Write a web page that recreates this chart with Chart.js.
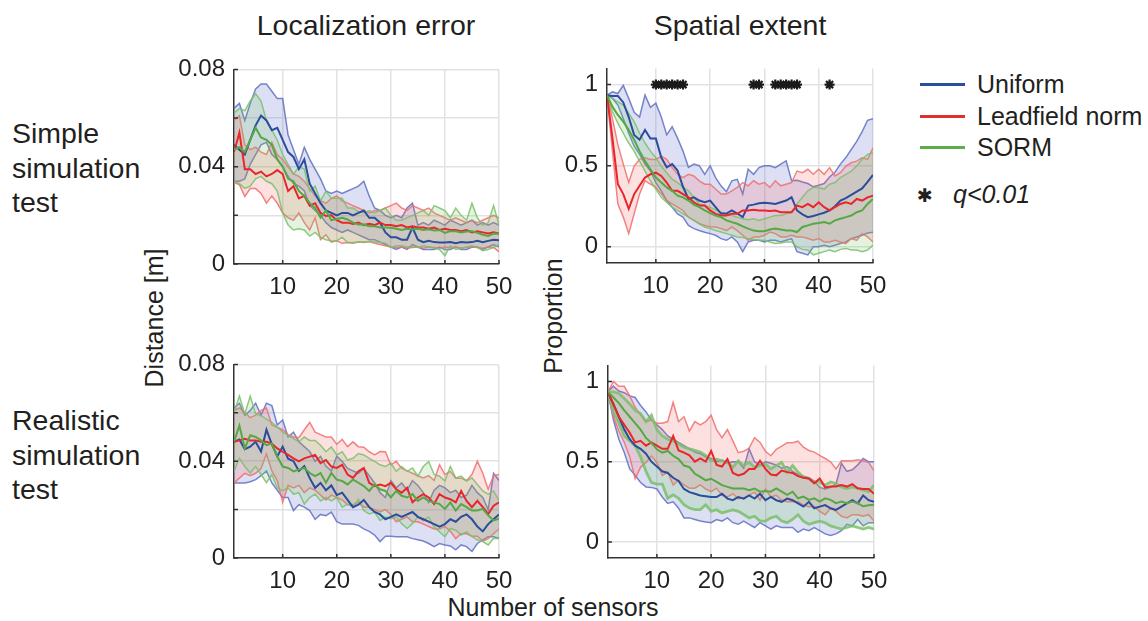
<!DOCTYPE html>
<html><head><meta charset="utf-8">
<script src="https://cdn.jsdelivr.net/npm/chart.js@4.4.1/dist/chart.umd.min.js"></script>
<style>
body{margin:0;background:#fff;width:1148px;height:621px;overflow:hidden;position:relative;font-family:'Liberation Sans',Arial,sans-serif;color:#231f20}
.t{position:absolute;white-space:nowrap}
canvas{position:absolute}
.lg{position:absolute;left:920px;width:45px;height:3px}
</style></head><body>
<div class="t" style="left:366px;top:9px;font-size:28.5px;transform:translateX(-50%)">Localization error</div>
<div class="t" style="left:740px;top:9px;font-size:28.5px;transform:translateX(-50%)">Spatial extent</div>
<div class="t" style="left:12px;top:116px;font-size:28.5px;line-height:34.5px">Simple<br>simulation<br>test</div>
<div class="t" style="left:12px;top:403px;font-size:28.5px;line-height:34.5px">Realistic<br>simulation<br>test</div>
<div class="t" style="left:154px;top:318px;font-size:25px;transform:translate(-50%,-50%) rotate(-90deg)">Distance [m]</div>
<div class="t" style="left:553px;top:316px;font-size:25px;transform:translate(-50%,-50%) rotate(-90deg)">Proportion</div>
<div class="t" style="left:553px;top:593px;font-size:25px;transform:translateX(-50%)">Number of sensors</div>
<div class="lg" style="top:83px;background:#2a4d9c"></div>
<div class="lg" style="top:115px;background:#e0302e"></div>
<div class="lg" style="top:146px;background:#5aaf48"></div>
<div class="t" style="left:977px;top:70px;font-size:25px">Uniform</div>
<div class="t" style="left:977px;top:102px;font-size:25px">Leadfield norm</div>
<div class="t" style="left:977px;top:133px;font-size:25px">SORM</div>
<div class="t" style="left:917px;top:184px;font-size:19px;font-family:'DejaVu Sans'">✱</div>
<div class="t" style="left:953px;top:180px;font-size:25px;font-style:italic">q&lt;0.01</div>
<canvas id="c1" width="395" height="263"></canvas>
<canvas id="c2" width="396" height="263"></canvas>
<canvas id="c3" width="395" height="262"></canvas>
<canvas id="c4" width="396" height="261"></canvas>
<script>
const sensors=[1,2,3,4,5,6,7,8,9,10,11,12,13,14,15,16,17,18,19,20,21,22,23,24,25,26,27,28,29,30,31,32,33,34,35,36,37,38,39,40,41,42,43,44,45,46,47,48,49,50];
const xTicks=[10,20,30,40,50];
const errTicks=[0,0.02,0.04,0.06,0.08];
const errTickLabels=['0','','0.04','','0.08'];
const propTicks=[0,0.5,1];
const propTickLabels=['0','0.5','1'];
const starSensors=[10,11,12,13,14,15,28,29,32,33,34,35,36,42];
const starLevel=1;

// Panel 1: localization error, simple simulation
const p1UniHi=[.064,.066,.059,.066,.072,.074,.074,.071,.068,.068,.053,.047,.041,.048,.043,.039,.035,.030,.029,.030,.029,.030,.031,.032,.034,.028,.023,.022,.020,.019,.020,.019,.023,.025,.016,.017,.016,.018,.017,.016,.018,.017,.016,.017,.018,.016,.017,.016,.017,.016];
const p1UniMed=[.049,.047,.045,.051,.057,.061,.059,.055,.056,.051,.046,.044,.039,.043,.033,.029,.025,.022,.021,.020,.021,.021,.020,.021,.022,.019,.019,.017,.013,.011,.011,.010,.010,.015,.010,.009,.0095,.009,.0088,.0088,.009,.0085,.009,.0088,.009,.0095,.009,.0095,.010,.0098];
const p1UniLo=[.034,.034,.035,.041,.045,.049,.050,.045,.043,.040,.036,.033,.032,.030,.024,.022,.020,.017,.015,.014,.013,.014,.013,.012,.011,.010,.010,.009,.008,.007,.006,.007,.006,.008,.007,.006,.006,.006,.007,.006,.006,.007,.006,.006,.007,.007,.006,.007,.008,.007];
const p1LfnHi=[.059,.061,.049,.047,.048,.046,.045,.050,.045,.043,.040,.037,.036,.034,.031,.028,.026,.025,.027,.028,.026,.025,.024,.023,.022,.021,.022,.022,.023,.024,.025,.023,.022,.024,.023,.022,.023,.021,.020,.019,.018,.019,.018,.017,.018,.017,.018,.019,.020,.019];
const p1LfnMed=[.046,.054,.039,.039,.037,.038,.036,.037,.0386,.037,.030,.032,.027,.028,.024,.025,.021,.0197,.020,.018,.017,.017,.0165,.017,.016,.0165,.016,.017,.016,.016,.0155,.016,.015,.0155,.015,.015,.0145,.015,.014,.0145,.014,.014,.0135,.014,.013,.0135,.013,.0125,.013,.0125];
const p1LfnLo=[.0335,.0326,.0278,.031,.031,.029,.025,.028,.025,.021,.019,.018,.021,.017,.014,.019,.010,.012,.009,.0095,.0085,.0088,.0085,.009,.0088,.0092,.0085,.008,.0075,.007,.0068,.007,.0065,.0068,.007,.0065,.007,.0068,.0065,.007,.0068,.007,.0066,.0068,.007,.0068,.0065,.007,.0068,.005];
const p1SormHi=[.062,.064,.063,.067,.070,.067,.059,.055,.051,.045,.041,.037,.040,.039,.030,.032,.026,.030,.027,.027,.027,.023,.023,.0216,.021,.022,.021,.022,.023,.020,.018,.018,.019,.020,.021,.022,.020,.024,.023,.022,.019,.023,.020,.018,.025,.019,.016,.017,.024,.016];
const p1SormMed=[.047,.048,.046,.051,.056,.052,.051,.049,.043,.040,.035,.034,.030,.028,.025,.023,.019,.022,.018,.0185,.019,.0183,.017,.0162,.0162,.0155,.0155,.015,.015,.0149,.0145,.014,.0145,.0142,.0145,.014,.0143,.0138,.014,.0128,.0135,.0135,.013,.0134,.0135,.0128,.012,.0115,.0125,.0124];
const p1SormLo=[.034,.033,.0311,.032,.035,.036,.034,.033,.030,.021,.016,.014,.0145,.014,.0115,.013,.011,.010,.0095,.0095,.011,.0088,.0088,.009,.009,.0092,.009,.0088,.0085,.0068,.0075,.0075,.007,.0072,.0068,.0075,.007,.0065,.006,.0034,.0075,.006,.0065,.007,.0075,.0068,.0055,.006,.0068,.0081];

// Panel 2: spatial extent, simple simulation
const p2UniHi=[.935,.955,.945,.995,.915,.83,.80,.935,.86,.885,.80,.69,.74,.67,.59,.49,.51,.50,.447,.50,.427,.376,.34,.407,.416,.325,.478,.447,.488,.50,.50,.488,.51,.53,.407,.41,.40,.39,.37,.38,.39,.43,.46,.51,.55,.60,.65,.71,.78,.79];
const p2UniMed=[.935,.93,.93,.89,.80,.69,.66,.72,.667,.667,.55,.49,.51,.47,.37,.295,.305,.285,.275,.285,.245,.205,.205,.224,.205,.183,.254,.26,.268,.272,.268,.264,.275,.285,.305,.224,.20,.183,.19,.20,.21,.224,.25,.285,.30,.32,.34,.36,.40,.443];
const p2UniLo=[.935,.915,.874,.79,.70,.62,.57,.51,.467,.396,.345,.285,.244,.203,.183,.132,.112,.10,.09,.081,.071,.05,.04,.061,.03,-.03,.03,.04,.04,.03,.04,.04,.03,.04,.05,-.03,-.04,-.05,0,0,.01,0,.01,.02,.03,.05,.06,.071,.085,.09];
const p2LfnHi=[.935,.79,.63,.51,.396,.498,.539,.549,.539,.539,.559,.539,.488,.447,.427,.447,.437,.407,.386,.386,.356,.325,.325,.345,.366,.396,.376,.407,.386,.396,.366,.407,.376,.386,.396,.467,.457,.478,.447,.478,.447,.488,.437,.457,.498,.518,.528,.549,.539,.61];
const p2LfnMed=[.935,.67,.386,.325,.234,.325,.376,.427,.447,.457,.437,.396,.345,.345,.325,.305,.274,.254,.254,.224,.203,.193,.193,.203,.203,.224,.224,.228,.224,.224,.22,.224,.213,.213,.213,.254,.244,.264,.244,.274,.244,.224,.244,.264,.274,.264,.295,.285,.305,.315];
const p2LfnLo=[.935,.59,.264,.183,.081,.203,.325,.407,.386,.366,.325,.285,.264,.244,.224,.183,.163,.142,.132,.122,.122,.112,.10,.122,.10,.071,.04,.061,.061,.071,.091,.081,.061,.061,.071,.061,.061,.051,.04,.051,.03,.03,.04,.03,.02,.051,.04,.081,.061,.03];
const p2SormHi=[.935,.915,.894,.874,.823,.772,.70,.64,.59,.549,.498,.457,.417,.396,.366,.345,.305,.264,.254,.244,.228,.213,.203,.193,.183,.173,.167,.173,.163,.173,.183,.193,.193,.203,.213,.264,.305,.345,.366,.366,.356,.386,.396,.427,.447,.467,.498,.539,.57,.58];
const p2SormMed=[.935,.864,.813,.772,.72,.66,.59,.528,.478,.427,.396,.366,.345,.315,.305,.285,.26,.244,.224,.207,.193,.183,.163,.152,.142,.126,.112,.10,.096,.096,.106,.112,.106,.10,.10,.091,.122,.132,.142,.146,.152,.142,.163,.173,.183,.193,.213,.224,.264,.295];
const p2SormLo=[.935,.833,.762,.70,.64,.59,.528,.467,.407,.356,.305,.274,.244,.224,.203,.183,.163,.142,.122,.112,.10,.091,.081,.071,.061,.057,.05,.045,.04,.04,.03,.02,.024,.03,.03,0,-.016,-.02,-.05,-.04,-.03,-.02,-.03,-.016,-.01,-.02,-.02,-.03,-.02,.01];

// Panel 3: localization error, realistic simulation
const p3UniHi=[.062,.064,.059,.061,.064,.059,.064,.063,.055,.057,.050,.052,.048,.046,.044,.040,.042,.038,.036,.042,.040,.037,.036,.035,.037,.034,.031,.027,.025,.032,.029,.031,.028,.032,.030,.027,.023,.028,.030,.029,.027,.028,.025,.026,.030,.027,.025,.020,.035,.032];
const p3UniMed=[.048,.049,.045,.046,.048,.044,.053,.047,.042,.046,.041,.040,.036,.038,.033,.029,.031,.028,.030,.026,.027,.024,.021,.022,.024,.021,.019,.018,.016,.017,.018,.017,.018,.019,.017,.016,.015,.014,.013,.014,.016,.015,.017,.018,.016,.013,.011,.014,.016,.018];
const p3UniLo=[.031,.031,.031,.0315,.0324,.034,.036,.031,.028,.025,.025,.0196,.022,.021,.0196,.016,.018,.0175,.019,.015,.014,.014,.014,.0135,.012,.011,.0095,.0068,.009,.009,.0088,.0088,.0088,.008,.0075,.007,.006,.0047,.006,.0054,.005,.0034,.0054,.0047,.0027,.006,.0074,.0088,.0088,.0081];
const p3LfnHi=[.061,.062,.060,.058,.059,.061,.062,.055,.054,.053,.051,.050,.0497,.053,.056,.052,.051,.050,.050,.047,.049,.046,.048,.046,.0458,.0439,.0426,.044,.0439,.0385,.040,.037,.036,.035,.034,.0331,.034,.032,.0385,.0345,.0358,.033,.033,.032,.0345,.040,.035,.0284,.034,.0345];
const p3LfnMed=[.048,.0486,.0493,.0486,.0486,.048,.048,.0473,.0453,.0439,.0426,.0412,.0399,.0412,.0419,.0426,.0392,.0405,.0378,.0372,.0385,.0345,.0331,.0358,.0372,.0311,.0297,.0304,.0297,.0311,.0284,.027,.029,.023,.025,.0264,.025,.0223,.0264,.025,.0243,.023,.0277,.0236,.021,.0236,.021,.0182,.0216,.023];
const p3LfnLo=[.031,.033,.035,.034,.035,.037,.043,.036,.032,.023,.030,.029,.030,.027,.029,.028,.026,.024,.026,.025,.024,.022,.022,.023,.021,.021,.020,.019,.020,.018,.015,.016,.017,.015,.015,.014,.013,.012,.012,.013,.011,.008,.010,.010,.009,.009,.007,.008,.010,.012];
const p3SormHi=[.0601,.0669,.0595,.0669,.0595,.0588,.0574,.0561,.0541,.052,.0507,.0493,.048,.050,.0486,.0486,.0466,.0439,.0459,.0426,.0439,.0405,.0412,.0432,.0426,.0412,.0399,.0385,.0378,.0392,.0358,.0378,.0358,.0372,.0338,.0378,.0399,.0345,.0338,.0318,.0378,.0331,.0338,.0318,.0331,.0304,.0277,.0264,.0277,.0236];
const p3SormMed=[.048,.0547,.0453,.0507,.050,.0486,.0466,.0473,.0419,.0378,.0372,.0358,.0365,.0372,.0351,.0338,.0351,.0311,.0351,.0324,.0318,.0304,.0324,.0311,.0297,.0277,.0304,.0284,.0277,.025,.0277,.0257,.025,.0264,.0236,.025,.0236,.023,.0223,.0203,.023,.0196,.0223,.021,.0196,.0196,.0203,.0176,.0155,.0162];
const p3SormLo=[.0358,.0412,.0378,.0351,.0378,.0345,.0311,.0345,.029,.0277,.029,.0264,.027,.0223,.025,.0264,.0236,.025,.0236,.025,.021,.0223,.021,.0243,.0196,.0182,.0189,.0155,.0169,.0162,.0169,.0142,.0122,.0142,.0169,.0155,.0169,.0128,.0108,.0088,.0122,.0115,.0095,.0108,.0088,.0074,.0068,.0054,.0081,.0081];

// Panel 4: spatial extent, realistic simulation
const p4UniHi=[.94,.97,.94,.93,.91,.90,.85,.81,.76,.73,.70,.66,.64,.62,.60,.58,.56,.55,.53,.52,.50,.51,.49,.50,.50,.46,.58,.50,.48,.50,.49,.48,.46,.47,.44,.42,.41,.40,.38,.34,.33,.34,.36,.49,.44,.45,.48,.52,.50,.50];
const p4UniMed=[.93,.86,.78,.70,.64,.60,.58,.55,.50,.47,.44,.43,.40,.38,.33,.31,.30,.29,.285,.28,.28,.30,.27,.26,.28,.27,.29,.27,.30,.26,.28,.26,.25,.27,.26,.24,.22,.25,.21,.22,.23,.21,.20,.22,.24,.26,.24,.29,.26,.25];
const p4UniLo=[.93,.76,.64,.557,.455,.415,.37,.343,.34,.33,.28,.24,.25,.21,.15,.15,.14,.13,.125,.12,.14,.13,.15,.12,.11,.13,.11,.09,.12,.10,.08,.10,.09,.09,.09,.06,.08,.07,.09,.07,.05,.04,.05,.07,.11,.10,.14,.10,.12,.12];
const p4LfnHi=[.935,1.0,.97,.97,.91,.84,.79,.75,.76,.74,.74,.75,.87,.75,.78,.69,.75,.73,.75,.79,.70,.65,.70,.63,.556,.565,.585,.65,.62,.565,.537,.577,.597,.618,.618,.628,.59,.57,.56,.54,.52,.50,.455,.506,.506,.506,.512,.506,.496,.445];
const p4LfnMed=[.935,.855,.78,.73,.68,.62,.63,.60,.62,.60,.58,.58,.66,.57,.557,.54,.50,.52,.50,.567,.48,.47,.516,.43,.415,.425,.455,.455,.506,.455,.42,.415,.445,.435,.43,.41,.40,.395,.365,.395,.34,.345,.345,.355,.345,.36,.335,.33,.33,.30];
const p4LfnLo=[.935,.78,.69,.62,.53,.394,.465,.495,.535,.495,.415,.435,.355,.385,.355,.335,.335,.355,.33,.313,.335,.29,.28,.30,.27,.275,.29,.31,.26,.33,.28,.29,.26,.25,.25,.25,.23,.22,.22,.19,.17,.21,.19,.16,.15,.17,.17,.16,.17,.13];
const p4SormHi=[.935,.935,.925,.894,.86,.82,.80,.75,.79,.70,.66,.64,.63,.61,.59,.58,.57,.56,.54,.506,.516,.506,.496,.465,.506,.476,.496,.465,.476,.486,.455,.476,.496,.435,.476,.435,.405,.394,.374,.374,.354,.374,.364,.343,.333,.343,.333,.323,.313,.354];
const p4SormMed=[.935,.90,.865,.82,.78,.74,.70,.648,.617,.577,.557,.567,.537,.516,.476,.466,.425,.405,.384,.394,.374,.354,.343,.333,.333,.333,.323,.333,.313,.317,.313,.333,.313,.293,.313,.272,.283,.262,.272,.252,.272,.262,.242,.252,.242,.252,.242,.222,.228,.232];
const p4SormLo=[.935,.81,.74,.66,.63,.60,.53,.44,.37,.36,.36,.272,.293,.272,.232,.211,.201,.201,.232,.191,.201,.181,.191,.20,.191,.171,.15,.16,.13,.13,.15,.16,.13,.12,.14,.17,.13,.11,.12,.13,.12,.10,.09,.08,.09,.10,.09,.08,.09,.08];

const COL={
  uni:{med:'#2a4d9c',edge:'rgba(96,112,192,0.85)',fill:'rgba(100,112,210,0.22)'},
  lfn:{med:'#e8262b',edge:'rgba(240,112,112,0.85)',fill:'rgba(245,90,90,0.18)'},
  sorm:{med:'#55a843',edge:'rgba(122,192,108,0.85)',fill:'rgba(120,195,100,0.2)'}
};
const pts=a=>sensors.map((s,i)=>({x:s,y:a[i]}));
const tickPlugin={id:'inTicks',afterDraw(c){const{ctx,chartArea:a,scales:{x,y}}=c;ctx.save();ctx.strokeStyle='#333';ctx.lineWidth=1.5;ctx.beginPath();
  x.ticks.forEach(t=>{const p=x.getPixelForValue(t.value);ctx.moveTo(p,a.bottom);ctx.lineTo(p,a.bottom-4);});
  y.ticks.forEach(t=>{const p=y.getPixelForValue(t.value);ctx.moveTo(a.left,p);ctx.lineTo(a.left+4,p);});
  ctx.stroke();ctx.restore();}};

function panel(id,L,T,R,B,yMin,yMax,yT,yL,S,stars,edgeW){
  const cv=document.getElementById(id);
  const PL=100,PT=20,PR=30,PB=45;
  cv.style.left=(L-PL)+'px';cv.style.top=(T-PT)+'px';
  cv.width=Math.round(R-L+PL+PR);cv.height=Math.round(B-T+PT+PB);
  const ds=[];
  if(stars){ds.push({data:starSensors.map(s=>({x:s,y:starLevel})),showLine:false,pointStyle:'star',pointRadius:5,borderColor:'#1a1a1a',backgroundColor:'#1a1a1a',pointBorderWidth:2.2});}
  const med=(a,c)=>({data:pts(a),borderColor:c.med,borderWidth:2,pointRadius:0,fill:false});
  const hi=(a,c,w)=>({data:pts(a),borderColor:c.edge,borderWidth:w,pointRadius:0,fill:'+1',backgroundColor:c.fill});
  const lo=(a,c,w)=>({data:pts(a),borderColor:c.edge,borderWidth:w,pointRadius:0,fill:false});
  ds.push(med(S.sorm[1],COL.sorm),med(S.lfn[1],COL.lfn),med(S.uni[1],COL.uni),
    hi(S.sorm[0],COL.sorm,edgeW.sorm),lo(S.sorm[2],COL.sorm,edgeW.sorm),
    hi(S.lfn[0],COL.lfn,1.5),lo(S.lfn[2],COL.lfn,1.5),
    hi(S.uni[0],COL.uni,1.5),lo(S.uni[2],COL.uni,1.5));
  new Chart(cv,{type:'line',data:{datasets:ds},plugins:[tickPlugin],
    options:{responsive:false,animation:false,devicePixelRatio:1,
      layout:{padding:{top:PT,right:PR,left:0,bottom:0}},
      plugins:{legend:{display:false},tooltip:{enabled:false}},
      elements:{line:{tension:0}},
      scales:{
        x:{type:'linear',min:1,max:50,afterBuildTicks:s=>{s.ticks=xTicks.map(v=>({value:v}));},afterFit:s=>{s.height=PB;},
          grid:{color:'#e2e2e2',lineWidth:1.5,drawTicks:false},border:{color:'#333',width:1.5},
          ticks:{padding:9,color:'#231f20',font:{family:'Liberation Sans',size:24},maxRotation:0,callback:v=>String(v)}},
        y:{type:'linear',min:yMin,max:yMax,afterBuildTicks:s=>{s.ticks=yT.map(v=>({value:v}));},afterFit:s=>{s.width=PL;},
          grid:{color:'#e2e2e2',lineWidth:1.5,drawTicks:false},border:{color:'#333',width:1.5},
          ticks:{padding:9,color:'#231f20',font:{family:'Liberation Sans',size:24},callback:(v,i)=>yL[yT.indexOf(v)]??''}}
      }}});
}
panel('c1',234,66,499,263.6,0,0.08,errTicks,errTickLabels,{uni:[p1UniHi,p1UniMed,p1UniLo],lfn:[p1LfnHi,p1LfnMed,p1LfnLo],sorm:[p1SormHi,p1SormMed,p1SormLo]},false,{sorm:1.5});
panel('c2',607,65,873,262.5,-0.1,1.1,propTicks,propTickLabels,{uni:[p2UniHi,p2UniMed,p2UniLo],lfn:[p2LfnHi,p2LfnMed,p2LfnLo],sorm:[p2SormHi,p2SormMed,p2SormLo]},true,{sorm:1.5});
panel('c3',234,361,499,558.3,0,0.08,errTicks,errTickLabels,{uni:[p3UniHi,p3UniMed,p3UniLo],lfn:[p3LfnHi,p3LfnMed,p3LfnLo],sorm:[p3SormHi,p3SormMed,p3SormLo]},false,{sorm:1.5});
panel('c4',608,361.5,874,557.5,-0.1,1.1,propTicks,propTickLabels,{uni:[p4UniHi,p4UniMed,p4UniLo],lfn:[p4LfnHi,p4LfnMed,p4LfnLo],sorm:[p4SormHi,p4SormMed,p4SormLo]},false,{sorm:2.8});
</script>
</body></html>
